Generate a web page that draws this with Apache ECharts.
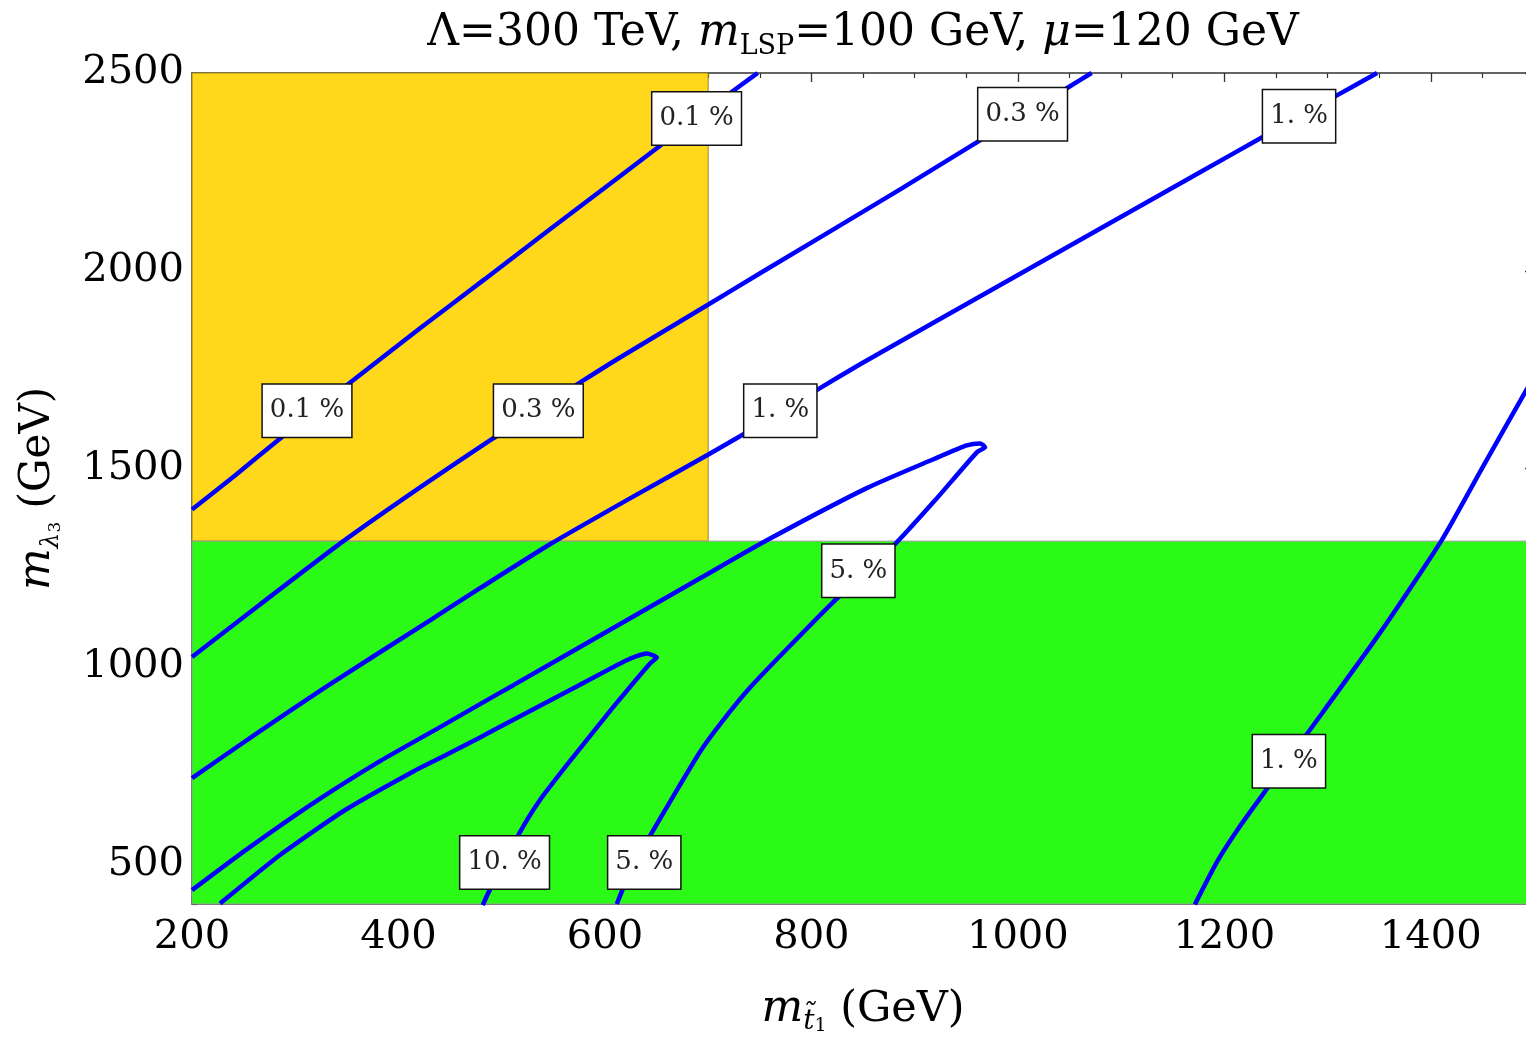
<!DOCTYPE html>
<html>
<head>
<meta charset="utf-8">
<script src="https://cdn.jsdelivr.net/npm/echarts@6/dist/echarts.min.js"></script>
<style>html,body{margin:0;padding:0;background:#fff}#c{width:1526px;height:1045px}</style>
</head>
<body>
<div id="c"></div>
<script>
// ---- data (GeV) ----
const xRange = [200, 1500];
const yRange = [400, 2500];
const yMajorTicks = [500, 1000, 1500, 2000, 2500];
const yellowRegion = [200, 700, 1317, 2500];   // x0, x1, y0, y1
const greenRegion = [200, 1500, 400, 1317];

const contour01 = [[200,1397],[241.7,1483],[283.3,1572],[349.9,1711],[420.9,1855],[483.6,1979],[546.8,2105],[614.6,2239],[650.2,2310],[692.2,2393],[731.6,2469],[748,2500]];
const contour03 = [[200,1024],[265.9,1157],[346.6,1317],[420.9,1453],[491.9,1577],[579.1,1723],[614.6,1781],[700.2,1915],[750.3,1994],[886,2206],[958.6,2322],[1049,2464],[1071.5,2500]];
const contour1a = [[200,718],[265.9,837],[330.5,950],[430.6,1117],[479,1198],[546.8,1309],[624.3,1425],[700.2,1536],[750.6,1612],[804.7,1698],[847.2,1764],[905.3,1850],[1176.5,2249],[1236.3,2337],[1307.3,2441],[1348,2500]];
const contour1b = [[1171.5,399],[1192.8,506],[1215.3,597],[1242.4,695],[1282.7,839],[1351.3,1087],[1410.5,1319],[1450.7,1506],[1492.4,1698],[1500,1730]];
const contour5 = [[200,435],[253,538],[317.5,655],[382.1,761],[440.3,847],[479,905],[511.3,953],[621.1,1117],[692.2,1223],[756.8,1319],[853.6,1451],[918.2,1524],[950.5,1559],[963.4,1564],[968.3,1554],[960.5,1542],[919.8,1420],[879.1,1304],[820.4,1161],[773.9,1038],[740.6,947],[713.5,861],[692.2,785],[666.6,674],[643.7,572],[626.3,492],[611.5,400]];
const contour10 = [[227.1,401],[285.3,524],[349.9,640],[414.4,735],[440.3,769],[479,821],[504.9,857],[569.4,945],[621.1,1016],[640.5,1033],[650.2,1023],[643.7,1008],[608.2,898],[569.4,772],[537.1,663],[517.8,582],[488.7,437],[481.6,397]];

const labelX = [311.4, 535.5, 769.9, 688.8, 1004.6, 1272.4, 845.5, 502.8, 638.1, 1262.6];
const labelY = [1646.5, 1646.5, 1646.5, 2385, 2396, 2391, 1242, 505, 505, 761];
const labelText = ['0.1 %', '0.3 %', '1. %', '0.1 %', '0.3 %', '1. %', '5. %', '10. %', '5. %', '1. %'];

// ---- chart ----
const SERIF = 'DejaVu Serif';
const axisColor = '#333';
const chart = echarts.init(document.getElementById('c'), null, {width: 1526, height: 1045});

function lineSeries(name, data) {
  return {
    name, type: 'line', data, xAxisIndex: 0, yAxisIndex: 0,
    showSymbol: false, symbol: 'none', smooth: 0.2, clip: true, z: 3,
    lineStyle: {color: '#0000ff', width: 4.5}, silent: true, animation: false
  };
}

function yAx(pos, major, labels) {
  return {
    type: 'value', min: yRange[0], max: yRange[1], position: pos,
    interval: major ? undefined : 100,
    axisLine: {show: !major, onZero: false, lineStyle: {color: axisColor, width: 1.5}},
    axisTick: major
      ? {show: true, inside: true, length: 9, customValues: yMajorTicks, lineStyle: {color: axisColor, width: 1.3}}
      : {show: true, inside: true, length: 5, lineStyle: {color: axisColor, width: 1.2}},
    axisLabel: labels ? {
      show: true, margin: 8, fontFamily: SERIF, fontSize: 40, color: '#000',
      formatter: v => yMajorTicks.includes(v) ? String(v) : ''
    } : {show: false},
    splitLine: {show: false}
  };
}

function xAx(pos, labels) {
  return {
    type: 'value', min: xRange[0], max: xRange[1], interval: 200, position: pos,
    axisLine: {show: true, onZero: false, lineStyle: {color: axisColor, width: 1.5}},
    axisTick: {show: true, inside: true, length: 9, lineStyle: {color: axisColor, width: 1.3}},
    minorTick: {show: true, splitNumber: 4, length: 5, lineStyle: {color: axisColor, width: 1.2}},
    axisLabel: labels ? {show: true, margin: 14, fontFamily: SERIF, fontSize: 40, color: '#000', showMaxLabel: false, formatter: v => String(v)} : {show: false},
    splitLine: {show: false}, minorSplitLine: {show: false}
  };
}

const xMain = xAx('bottom', true);
xMain.name = '{i|m}{s|t\u0303}{t|1}{n| (GeV)}';
xMain.nameLocation = 'middle';
xMain.nameGap = 80;
xMain.nameTextStyle = {rich: {
  i: {fontFamily: SERIF, fontStyle: 'italic', fontSize: 44, lineHeight: 52, color: '#000'},
  s: {fontFamily: SERIF, fontStyle: 'italic', fontSize: 28, lineHeight: 30, verticalAlign: 'bottom', color: '#000'},
  t: {fontFamily: SERIF, fontSize: 19, lineHeight: 16, verticalAlign: 'bottom', color: '#000'},
  n: {fontFamily: SERIF, fontSize: 43, lineHeight: 52, color: '#000'}
}};

const yMain = yAx('left', false, true);
yMain.name = '{i|m}{s|\u03bb}{t|3}{n| (GeV)}';
yMain.nameLocation = 'middle';
yMain.nameGap = 128;
yMain.nameRotate = 90;
yMain.nameTextStyle = {rich: {
  i: {fontFamily: SERIF, fontStyle: 'italic', fontSize: 44, lineHeight: 52, color: '#000'},
  s: {fontFamily: SERIF, fontStyle: 'italic', fontSize: 25, lineHeight: 30, verticalAlign: 'bottom', color: '#000'},
  t: {fontFamily: SERIF, fontSize: 17, lineHeight: 14, verticalAlign: 'bottom', color: '#000'},
  n: {fontFamily: SERIF, fontSize: 42, lineHeight: 52, color: '#000'}
}};

const option = {
  animation: false,
  backgroundColor: '#fff',
  title: {
    text: '{n|\u039b=300 TeV, }{i|m}{s|LSP}{n|=100 GeV, }{i|\u03bc}{n|=120 GeV}',
    left: 863, top: 8, textAlign: 'center', padding: 0,
    textStyle: {fontWeight: 'normal', rich: {
      n: {fontFamily: SERIF, fontWeight: 'normal', fontSize: 44, lineHeight: 52, color: '#000'},
      i: {fontFamily: SERIF, fontWeight: 'normal', fontStyle: 'italic', fontSize: 44, lineHeight: 52, color: '#000'},
      s: {fontFamily: SERIF, fontWeight: 'normal', fontSize: 27, lineHeight: 32, verticalAlign: 'bottom', color: '#000'}
    }}
  },
  grid: {left: 192, top: 73, right: -8, bottom: 141, containLabel: false, outerBoundsMode: 'none'},
  xAxis: [xMain, xAx('top', false)],
  yAxis: [yMain, yAx('left', true, false), yAx('right', false, false), yAx('right', true, false)],
  series: [
    {
      type: 'line', data: [], xAxisIndex: 0, yAxisIndex: 0, z: 1, silent: true,
      markArea: {
        silent: true,
        data: [
          [{xAxis: yellowRegion[0], yAxis: yellowRegion[2], itemStyle: {color: '#ffd81b', borderColor: '#9a8420', borderWidth: 1}},
           {xAxis: yellowRegion[1], yAxis: yellowRegion[3]}],
          [{xAxis: greenRegion[0], yAxis: greenRegion[2], itemStyle: {color: '#2bfa17', borderColor: '#9a9a9a', borderWidth: 1}},
           {xAxis: greenRegion[1], yAxis: greenRegion[3]}]
        ]
      }
    },
    lineSeries('0.1%', contour01),
    lineSeries('0.3%', contour03),
    lineSeries('1% upper', contour1a),
    lineSeries('1% right', contour1b),
    lineSeries('5%', contour5),
    lineSeries('10%', contour10),
    {
      type: 'scatter', xAxisIndex: 0, yAxisIndex: 0, z: 6, silent: true,
      symbol: 'rect', symbolSize: 1, itemStyle: {color: 'rgba(0,0,0,0)', opacity: 1},
      data: labelX.map((x, i) => ({value: [x, labelY[i]], name: labelText[i]})),
      label: {
        show: true, position: 'inside', formatter: '{b}',
        fontFamily: SERIF, fontSize: 26, color: '#222', lineHeight: 28,
        backgroundColor: '#ffffff', borderColor: '#111', borderWidth: 1.5,
        padding: [12, 7, 12, 7]
      },
      labelLayout: {hideOverlap: false}
    }
  ]
};
chart.setOption(option);
</script>
</body>
</html>
